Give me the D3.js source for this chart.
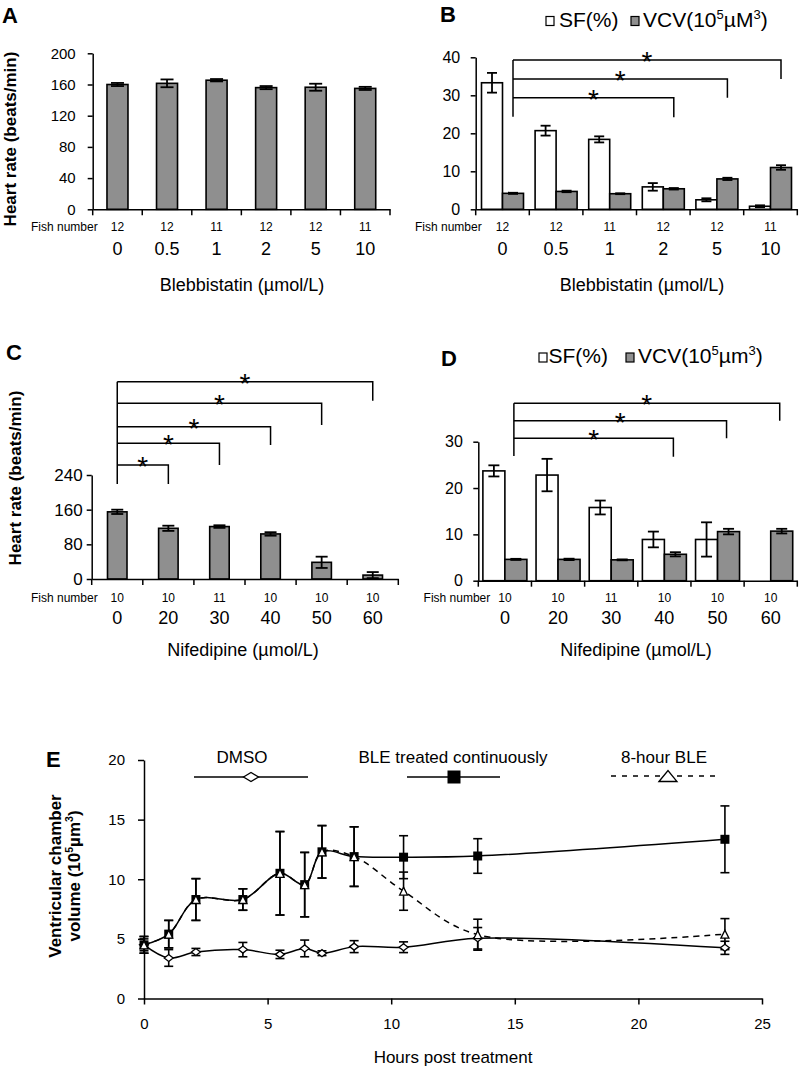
<!DOCTYPE html>
<html><head><meta charset="utf-8">
<script src="https://cdn.jsdelivr.net/npm/d3@7"></script>
<style>
body{margin:0;background:#fff;}
svg{display:block;font-family:"Liberation Sans",Arial,sans-serif;}
</style></head><body>
<svg id="chart" width="805" height="1077"></svg>
<script>
// ---------------- DATA ----------------
const blebCats = ["0","0.5","1","2","5","10"];
const blebFish = ["12","12","11","12","12","11"];
const blebHR = [160,161.5,165.5,156,156.5,155];
const blebHRErr = [2,5,1.5,2,4.5,2];
const blebSF = [33.3,20.7,18.4,5.9,2.5,0.8];
const blebSFErr = [2.6,1.3,0.8,1.0,0.4,0.25];
const blebVCV = [4.2,4.7,4.1,5.4,8.0,11.0];
const blebVCVErr = [0.15,0.2,0.12,0.2,0.3,0.6];
const blebSig = [3,4,5];           // compared with group 0

const nifCats = ["0","20","30","40","50","60"];
const nifFish = ["10","10","11","10","10","10"];
const nifHR = [155,117,121,104,38.5,9];
const nifHRErr = [5,6,3,4,13,7];
const nifHRSig = [1,2,3,4,5];
const nifSF = [23.7,22.8,15.8,8.9,8.9,0];
const nifSFErr = [1.2,3.5,1.5,1.7,3.7,0];
const nifVCV = [4.6,4.6,4.5,5.7,10.6,10.7];
const nifVCVErr = [0.12,0.15,0.1,0.45,0.6,0.5];
const nifSig = [3,4,5];

const hrTicksA = [0,40,80,120,160,200];
const sfTicksB = [0,10,20,30,40];
const hrTicksC = [0,80,160,240];
const sfTicksD = [0,10,20,30];

const hours = [0,1,2.1,4,5.5,6.5,7.2,8.5,10.5,13.5,23.5];
const volDMSO = [4.5,3.4,3.9,4.1,3.7,4.2,3.8,4.35,4.3,5.05,4.25];
const errDMSO = [0.5,0.7,0.3,0.6,0.35,0.7,0.2,0.5,0.45,0.9,0.55];
const volBLE = [4.5,5.4,8.3,8.3,10.5,9.55,12.3,11.9,11.85,11.95,13.35];
const errBLE = [0.7,1.15,1.75,0.9,3.5,2.7,2.2,2.5,1.8,1.45,2.8];
const vol8h = [4.5,5.4,8.3,8.3,10.5,9.55,12.3,11.9,9.0,5.35,5.4];
const err8h = [0.7,1.15,1.75,0.9,3.5,2.7,2.2,2.5,1.6,1.3,1.3];
const hourTicks = [0,5,10,15,20,25];
const volTicks = [0,5,10,15,20];

// ---------------- DRAW ----------------
const svg = d3.select("#chart");
const GREY = "#8f8f8f";

function rich(sel, parts, fs){
  let raised=false;
  parts.forEach(p=>{
    const t = sel.append("tspan").text(p[0]);
    if(p[1]){ t.attr("font-size",fs*0.62); if(!raised){t.attr("dy",-fs*0.4); raised=true;} }
    else if(raised){ t.attr("dy",fs*0.4); raised=false; }
  });
}

function barPanel(c){
  const g = svg.append("g");
  const x = d3.scaleBand().domain(c.cats).range(c.xr);
  const y = d3.scaleLinear().domain(c.yd).range(c.yr);
  const bc = d => x(d)+x.bandwidth()/2;
  const n = c.series.length;
  c.series.forEach((s,si)=>{
    const off = n===1 ? -c.barW/2 : (si===0 ? -c.barW : 0);
    g.append("g").selectAll("rect").data(s.values).join("rect")
      .attr("x",(d,i)=>bc(c.cats[i])+off)
      .attr("y",d=>y(d)).attr("width",c.barW).attr("height",d=>y(0)-y(d))
      .attr("fill",s.fill).attr("stroke","#000").attr("stroke-width",1.6);
  });
  c.series.forEach((s,si)=>{
    const off = n===1 ? 0 : (si===0 ? -c.barW/2 : c.barW/2);
    const eg = g.append("g").attr("stroke","#000").attr("stroke-width",1.8);
    s.values.forEach((v,i)=>{
      const e = s.errs[i]; if(!e) return;
      const cx = bc(c.cats[i])+off;
      eg.append("line").attr("x1",cx).attr("x2",cx).attr("y1",y(v-e)).attr("y2",y(v+e));
      [v-e,v+e].forEach(t=>eg.append("line").attr("x1",cx-c.cap/2).attr("x2",cx+c.cap/2).attr("y1",y(t)).attr("y2",y(t)));
    });
  });
  // y axis
  const ya = g.append("g").attr("transform",`translate(${c.xr[0]},0)`)
    .call(d3.axisLeft(y).tickValues(c.ticks).tickSize(5).tickSizeOuter(0).tickPadding(c.tickPad));
  ya.attr("font-family",null).attr("font-size",c.tickFs);
  ya.selectAll("path,line").attr("stroke","#000").attr("stroke-width",1.5);
  ya.selectAll("text").attr("fill","#000");
  // x axis
  const xa = g.append("g").attr("transform",`translate(0,${y(0)})`)
    .call(d3.axisBottom(x).tickSize(0).tickSizeOuter(0).tickFormat(""));
  xa.selectAll(".tick").remove();
  xa.select(".domain").attr("stroke","#000").attr("stroke-width",1.5);
  const bounds = c.cats.map(d=>x(d)).concat([c.xr[1]]);
  g.append("g").selectAll("line").data(bounds).join("line")
    .attr("x1",d=>d).attr("x2",d=>d).attr("y1",y(0)).attr("y2",y(0)+6)
    .attr("stroke","#000").attr("stroke-width",1.5);
  // fish number
  g.append("text").attr("x",c.xr[0]+c.fishOff).attr("y",c.fishY).attr("text-anchor","end")
    .attr("font-size",12).text("Fish number");
  g.append("g").selectAll("text").data(c.fish).join("text")
    .attr("x",(d,i)=>bc(c.cats[i])).attr("y",c.fishY).attr("text-anchor","middle")
    .attr("font-size",12).text(d=>d);
  g.append("g").selectAll("text").data(c.cats).join("text")
    .attr("x",d=>bc(d)).attr("y",c.catY).attr("text-anchor","middle")
    .attr("font-size",18).text(d=>d);
  g.append("text").attr("x",c.titleX).attr("y",c.titleY).attr("text-anchor","middle")
    .attr("font-size",18).text(c.title);
  // significance brackets
  if(c.sig){
    const bx = d => bc(c.cats[d]) + c.sigOff;
    const x0 = bx(0);
    const sg = g.append("g").attr("stroke","#000").attr("stroke-width",1.5).attr("fill","none");
    sg.append("line").attr("x1",x0).attr("x2",x0).attr("y1",c.levels[c.levels.length-1]).attr("y2",c.leftBottom);
    c.sig.forEach((k,j)=>{
      const xr = bx(k);
      sg.append("path").attr("d",`M${x0},${c.levels[j]}H${xr}V${c.bottoms[j]}`);
      g.append("text").attr("x",(x0+xr)/2).attr("y",c.levels[j]+11)
        .attr("text-anchor","middle").attr("font-size",28).text("*");
    });
  }
  return {x,y};
}

// Panel A
barPanel({cats:blebCats, fish:blebFish, xr:[92.7,390], yd:[0,200], yr:[209.3,53.3], ticks:hrTicksA,
  series:[{values:blebHR, errs:blebHRErr, fill:GREY}], barW:21, cap:13, tickPad:12, tickFs:15,
  fishOff:5, fishY:231, catY:255, title:"Blebbistatin (µmol/L)", titleX:242, titleY:291});
// Panel B
barPanel({cats:blebCats, fish:blebFish, xr:[475.7,797.3], yd:[0,40], yr:[209.3,57.3], ticks:sfTicksB,
  series:[{values:blebSF, errs:blebSFErr, fill:"#fff"},{values:blebVCV, errs:blebVCVErr, fill:GREY}],
  barW:21, cap:10, tickPad:10.5, tickFs:16, fishOff:6, fishY:231, catY:255,
  title:"Blebbistatin (µmol/L)", titleX:642, titleY:291,
  sig:blebSig, sigOff:10.5, levels:[97.7,79,60], bottoms:[117.3,97.7,79], leftBottom:116.7});
// Panel C
barPanel({cats:nifCats, fish:nifFish, xr:[91.7,398.3], yd:[0,240], yr:[579,475], ticks:hrTicksC,
  series:[{values:nifHR, errs:nifHRErr, fill:GREY}], barW:19.5, cap:12, tickPad:4, tickFs:17,
  fishOff:6, fishY:602, catY:624, title:"Nifedipine (µmol/L)", titleX:243, titleY:656,
  sig:nifHRSig, sigOff:0, levels:[465,443.3,426.7,403.3,381.7], bottoms:[484,465,445,425,400.7], leftBottom:484});
// Panel D
barPanel({cats:nifCats, fish:nifFish, xr:[478.3,797.3], yd:[0,30], yr:[580.7,441.7], ticks:sfTicksD,
  series:[{values:nifSF, errs:nifSFErr, fill:"#fff"},{values:nifVCV, errs:nifVCVErr, fill:GREY}],
  barW:22, cap:11, tickPad:10.5, tickFs:16, fishOff:12, fishY:602, catY:624,
  title:"Nifedipine (µmol/L)", titleX:636, titleY:656,
  sig:nifSig, sigOff:9, levels:[438.3,420.7,403.3], bottoms:[456.7,438.3,420.7], leftBottom:456});

// panel letters
[["A",2,23],["B",440,22],["C",6,360],["D",441,366],["E",46,767]].forEach(d=>{
  svg.append("text").attr("x",d[1]).attr("y",d[2]).attr("font-size",22).attr("font-weight","bold").text(d[0]);
});
// y titles A, C
[[16,139],[21,478]].forEach(p=>{
  svg.append("text").attr("transform",`translate(${p[0]},${p[1]}) rotate(-90)`).attr("text-anchor","middle")
    .attr("font-size",17).attr("font-weight","bold").text("Heart rate (beats/min)");
});
// legends B, D
function barLegend(bx, by, tx, ty, gx, vx, unit){
  svg.append("rect").attr("x",bx).attr("y",by).attr("width",8).attr("height",9).attr("fill","#fff").attr("stroke","#000").attr("stroke-width",1.2);
  svg.append("text").attr("x",tx).attr("y",ty).attr("font-size",21).text("SF(%)");
  svg.append("rect").attr("x",gx).attr("y",by).attr("width",8).attr("height",9).attr("fill",GREY).attr("stroke","#000").attr("stroke-width",1.2);
  const t = svg.append("text").attr("x",vx).attr("y",ty).attr("font-size",21);
  rich(t,[["VCV(10"],["5",1],[unit],["3",1],[")"]],21);
}
barLegend(546,16.5,559,27,631,643,"µM");
barLegend(539,353,548.5,363,626,638,"µm");

// ---------------- Panel E ----------------
const xE = d3.scaleLinear().domain([0,25]).range([144,762]);
const yE = d3.scaleLinear().domain([0,20]).range([998.5,760]);
const gE = svg.append("g");
const ax1 = gE.append("g").attr("transform","translate(144,0)")
  .call(d3.axisLeft(yE).tickValues(volTicks).tickSize(6).tickSizeOuter(0).tickPadding(13));
const ax2 = gE.append("g").attr("transform","translate(0,998.5)")
  .call(d3.axisBottom(xE).tickValues(hourTicks).tickSize(6).tickSizeOuter(0).tickPadding(14));
[ax1,ax2].forEach(a=>{
  a.attr("font-family",null).attr("font-size",15);
  a.selectAll("path,line").attr("stroke","#000").attr("stroke-width",1.5);
  a.selectAll("text").attr("fill","#000");
});
gE.append("text").attr("x",453).attr("y",1063).attr("text-anchor","middle").attr("font-size",17).text("Hours post treatment");
gE.append("text").attr("transform","translate(61,876) rotate(-90)").attr("text-anchor","middle")
  .attr("font-size",17).attr("font-weight","bold").text("Ventricular chamber");
rich(gE.append("text").attr("transform","translate(80,876) rotate(-90)").attr("text-anchor","middle")
  .attr("font-size",17).attr("font-weight","bold"),[["volume (10"],["5",1],["µm"],["3",1],[")"]],17);

const line = d3.line().x((d,i)=>xE(hours[i])).y(d=>yE(d)).curve(d3.curveCatmullRom.alpha(0.5));
const seriesE = [
  {v:volDMSO, e:errDMSO, dash:null},
  {v:volBLE, e:errBLE, dash:null},
  {v:vol8h, e:err8h, dash:"6,5"}
];
seriesE.forEach(s=>{
  gE.append("path").attr("d",line(s.v)).attr("fill","none").attr("stroke","#000")
    .attr("stroke-width",1.5).attr("stroke-dasharray",s.dash);
});
seriesE.forEach(s=>{
  const eg = gE.append("g").attr("stroke","#000").attr("stroke-width",1.6);
  s.v.forEach((v,i)=>{
    const cx = xE(hours[i]), e = s.e[i];
    eg.append("line").attr("x1",cx).attr("x2",cx).attr("y1",yE(v-e)).attr("y2",yE(v+e));
    [v-e,v+e].forEach(t=>eg.append("line").attr("x1",cx-4.5).attr("x2",cx+4.5).attr("y1",yE(t)).attr("y2",yE(t)));
  });
});
function diamond(g,x,y,w,h){ g.append("path").attr("d",`M${x-w/2},${y}L${x},${y-h/2}L${x+w/2},${y}L${x},${y+h/2}Z`).attr("fill","#fff").attr("stroke","#000").attr("stroke-width",1.3); }
function square(g,x,y,s){ g.append("rect").attr("x",x-s/2).attr("y",y-s/2).attr("width",s).attr("height",s).attr("fill","#000"); }
function tri(g,x,y,w,h){ g.append("path").attr("d",`M${x-w/2},${y+h/2}L${x},${y-h/2}L${x+w/2},${y+h/2}Z`).attr("fill","#fff").attr("stroke","#000").attr("stroke-width",1.3); }
volDMSO.forEach((v,i)=>diamond(gE,xE(hours[i]),yE(v),9,7));
volBLE.forEach((v,i)=>square(gE,xE(hours[i]),yE(v),9));
vol8h.forEach((v,i)=>tri(gE,xE(hours[i]),yE(v),8,8));

// legend E
const lg = svg.append("g");
lg.append("text").attr("x",242).attr("y",763).attr("text-anchor","middle").attr("font-size",17).text("DMSO");
lg.append("line").attr("x1",194).attr("x2",308).attr("y1",777).attr("y2",777).attr("stroke","#000").attr("stroke-width",1.5);
diamond(lg,251,777,15,9);
lg.append("text").attr("x",453).attr("y",763).attr("text-anchor","middle").attr("font-size",17).text("BLE treated continuously");
lg.append("line").attr("x1",407).attr("x2",500).attr("y1",777).attr("y2",777).attr("stroke","#000").attr("stroke-width",1.5);
square(lg,454,777,13);
lg.append("text").attr("x",664).attr("y",763).attr("text-anchor","middle").attr("font-size",17).text("8-hour BLE");
lg.append("line").attr("x1",611).attr("x2",719).attr("y1",776).attr("y2",776).attr("stroke","#000").attr("stroke-width",1.5).attr("stroke-dasharray","5,6");
tri(lg,668,776,18,11);
</script></body></html>
